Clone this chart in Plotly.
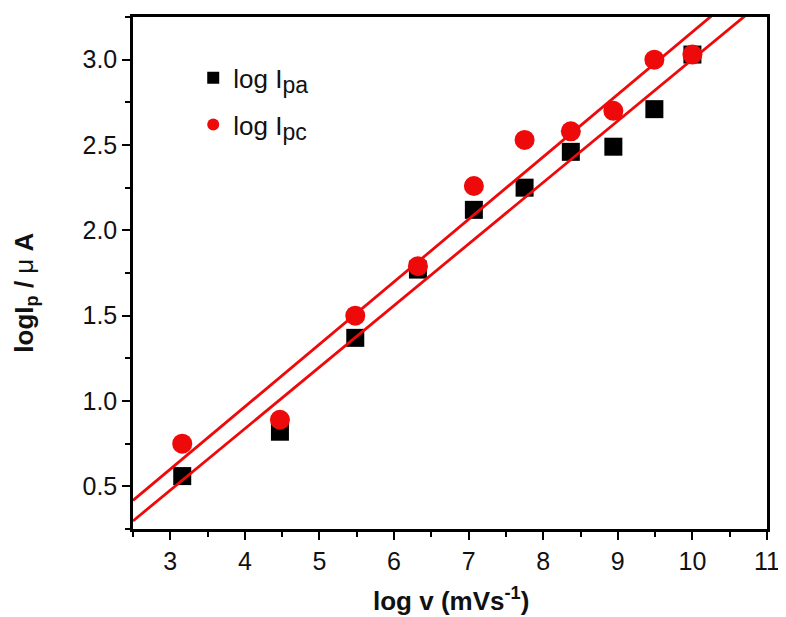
import numpy as np
import plotly.graph_objects as go

log_v = [3.16, 4.47, 5.48, 6.32, 7.07, 7.75, 8.37, 8.94, 9.49, 10.0]
log_ipa = [0.56, 0.82, 1.37, 1.77, 2.12, 2.25, 2.46, 2.49, 2.71, 3.03]
log_ipc = [0.75, 0.89, 1.50, 1.79, 2.26, 2.53, 2.58, 2.70, 3.00, 3.03]
fit_x = [2.5, 11.0]

RED = "#EE0A0A"
FONT = "Liberation Sans, Arial, sans-serif"

pa_fit = np.polyfit(log_v, log_ipa, 1)
pc_fit = np.polyfit(log_v, log_ipc, 1)
fx = np.array(fit_x)

fig = go.Figure()
fig.add_trace(go.Scatter(x=log_v, y=log_ipa, mode="markers",
                         name="log I<sub><span style='font-size:23px'>pa</span></sub>",
                         legendgroup="a",
                         marker=dict(symbol="square", size=18, color="black")))
fig.add_trace(go.Scatter(x=log_v, y=log_ipc, mode="markers",
                         name="log I<sub><span style='font-size:23px'>pc</span></sub>",
                         legendgroup="b",
                         marker=dict(symbol="circle", size=20, color=RED)))
fig.add_trace(go.Scatter(x=fx, y=np.polyval(pa_fit, fx), mode="lines", showlegend=False,
                         line=dict(color=RED, width=2.8)))
fig.add_trace(go.Scatter(x=fx, y=np.polyval(pc_fit, fx), mode="lines", showlegend=False,
                         line=dict(color=RED, width=2.8)))

axis_common = dict(
    showline=True, linecolor="black", linewidth=2.5, mirror=True,
    ticks="outside", ticklen=8, tickwidth=2, tickcolor="black",
    showgrid=False, zeroline=False,
    tickfont=dict(family=FONT, size=25, color="#111"),
)

fig.update_xaxes(range=[2.5, 11], tick0=3, dtick=1,
                 minor=dict(ticks="outside", ticklen=5, tickwidth=2, tickcolor="black", dtick=0.5, tick0=2.5),
                 **axis_common)
fig.update_yaxes(range=[0.25, 3.25], tick0=0.5, dtick=0.5, tickformat=".1f",
                 minor=dict(ticks="outside", ticklen=5, tickwidth=2, tickcolor="black", dtick=0.25, tick0=0.25),
                 **axis_common)

fig.add_annotation(text="<b>log v (mVs<sup>-1</sup>)</b>", xref="paper", yref="paper",
                   x=0.5016, y=-0.138, xanchor="center", yanchor="middle", showarrow=False,
                   font=dict(family=FONT, size=26, color="#111"))
fig.add_annotation(text="<b>logI<sub>p</sub> / </b>μ<b> A</b>", xref="paper", yref="paper",
                   x=-0.170, y=0.462, xanchor="center", yanchor="middle", showarrow=False,
                   textangle=-90, font=dict(family=FONT, size=26, color="#111"))

fig.update_layout(
    width=778, height=609,
    margin=dict(l=125, r=17, t=6, b=88),
    plot_bgcolor="white", paper_bgcolor="white",
    showlegend=True,
    legend=dict(x=0.095, y=0.927, xanchor="left", yanchor="top",
                font=dict(family=FONT, size=26, color="#111"),
                itemsizing="constant", bgcolor="rgba(0,0,0,0)", tracegroupgap=10),
)

fig.write_html("out.html")
